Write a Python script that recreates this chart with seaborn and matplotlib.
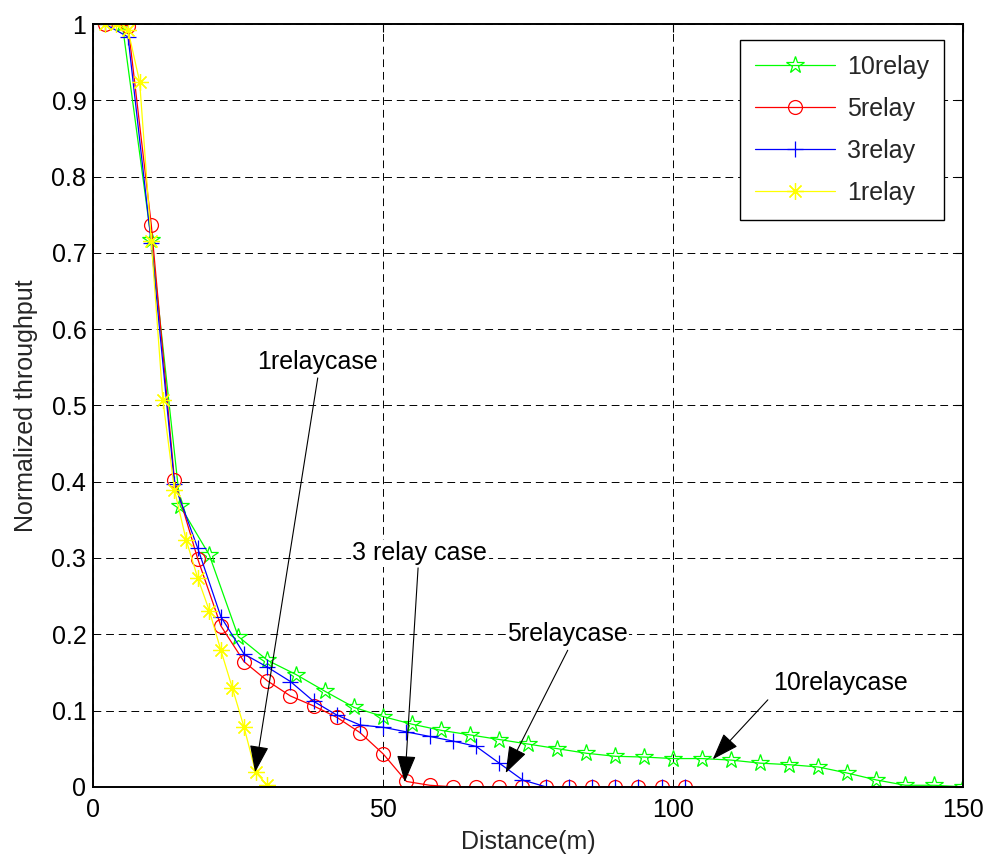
import matplotlib
matplotlib.use("Agg")
import matplotlib.pyplot as plt
import seaborn as sns
import pandas as pd

# ---- data ----
x10 = [5, 10, 15, 20, 25, 30, 35, 40, 45, 50, 55, 60, 65, 70, 75, 80, 85, 90, 95, 100,
       105, 110, 115, 120, 125, 130, 135, 140, 145, 150]
y10 = [1.0, 0.717, 0.368, 0.304, 0.197, 0.166, 0.147, 0.125, 0.104, 0.092, 0.082, 0.074,
       0.068, 0.062, 0.056, 0.050, 0.044, 0.040, 0.039, 0.037, 0.037, 0.035, 0.031, 0.029,
       0.026, 0.018, 0.009, 0.002, 0.002, 0.0]

x5 = [2, 6, 10, 14, 18, 22, 26, 30, 34, 38, 42, 46, 50, 54, 58, 62, 66, 70, 74, 78, 82,
      86, 90, 94, 98, 102]
y5 = [1.0, 0.998, 0.737, 0.402, 0.299, 0.211, 0.164, 0.139, 0.119, 0.106, 0.091, 0.071,
      0.043, 0.007, 0.002, 0.0, 0.0, 0.0, 0.0, 0.0, 0.0, 0.0, 0.0, 0.0, 0.0, 0.0]

x3 = [2, 6, 10, 14, 18, 22, 26, 30, 34, 38, 42, 46, 50, 54, 58, 62, 66, 70, 74, 78, 82,
      86, 90, 94, 98, 102]
y3 = [1.0, 0.983, 0.713, 0.397, 0.313, 0.223, 0.174, 0.157, 0.138, 0.112, 0.094, 0.081,
      0.078, 0.072, 0.066, 0.060, 0.053, 0.031, 0.009, 0.0, 0.0, 0.0, 0.0, 0.0, 0.0, 0.0]

x1 = [2, 4, 6, 8, 10, 12, 14, 16, 18, 20, 22, 24, 26, 28, 30]
y1 = [1.0, 1.0, 0.992, 0.924, 0.715, 0.507, 0.389, 0.324, 0.274, 0.231, 0.179, 0.129,
      0.078, 0.019, 0.002]

series_names = ["10relay", "5relay", "3relay", "1relay"]

annot_texts = ["1relaycase", "3 relay case", "5relaycase", "10relaycase"]
annot_text_xy = [(38.7, 0.557), (56.3, 0.306), (81.7, 0.200), (128.9, 0.136)]
annot_tail_xy = [(38.7, 0.536), (56.0, 0.287), (81.8, 0.179), (116.3, 0.114)]
annot_tip_xy = [(27.9, 0.019), (53.7, 0.006), (71.1, 0.018), (106.8, 0.036)]

xticks = [0, 50, 100, 150]
yticks = [0, 0.1, 0.2, 0.3, 0.4, 0.5, 0.6, 0.7, 0.8, 0.9, 1.0]
ytick_labels = ["0", "0.1", "0.2", "0.3", "0.4", "0.5", "0.6", "0.7", "0.8", "0.9", "1"]

# ---- style ----
sns.set_style("white")
plt.rcParams["font.family"] = ["Liberation Sans", "DejaVu Sans"]
FS = 18

fig = plt.figure(figsize=(9.88, 8.67), dpi=100)
ax = fig.add_axes([0.0944, 0.0925, 0.8806, 0.8798])

data = [
    (x10, y10, "#00ff00", "*", 13, series_names[0]),
    (x5, y5, "#ff0000", "o", 10, series_names[1]),
    (x3, y3, "#0000ff", "+", 12, series_names[2]),
    (x1, y1, "#ffff00", (8, 2, 0), 12, series_names[3]),
]
for xs, ys, col, mk, ms, name in data:
    df = pd.DataFrame({"x": xs, "y": ys})
    sns.lineplot(data=df, x="x", y="y", ax=ax, color=col, marker=mk, markersize=ms,
                 markerfacecolor="none", markeredgecolor=col, markeredgewidth=0.9,
                 linewidth=0.9, label=name, errorbar=None, sort=False)

ax.set_xlim(0, 150)
ax.set_ylim(0, 1)
ax.set_xticks(xticks)
ax.set_xticklabels([str(t) for t in xticks])
ax.set_yticks(yticks)
ax.set_yticklabels(ytick_labels)
ax.tick_params(direction="in", length=6, width=0.8, labelsize=FS, colors="black",
               top=True, right=True, pad=8)
ax.tick_params(axis="y", pad=5)
for s in ax.spines.values():
    s.set_color("black")
    s.set_linewidth(1.4)

ax.grid(True, color="black", linestyle=(0, (8, 5)), linewidth=0.7)
ax.set_axisbelow(True)

ax.set_xlabel("Distance(m)", fontsize=FS, labelpad=6)
ax.set_ylabel("Normalized throughput", fontsize=FS, labelpad=10)

for txt, txy, tail, tip in zip(annot_texts, annot_text_xy, annot_tail_xy, annot_tip_xy):
    ax.text(txy[0], txy[1], txt, fontsize=FS, ha="center", va="center", color="black",
            bbox=dict(boxstyle="square,pad=0.05", fc="white", ec="none"))
    ax.annotate("", xy=tip, xytext=tail,
                arrowprops=dict(arrowstyle="-|>,head_length=1.7,head_width=0.6",
                                color="black", lw=0.8, shrinkA=0, shrinkB=0))

leg = ax.legend(loc="upper right", bbox_to_anchor=(0.978, 0.979), borderaxespad=0,
                fontsize=FS, frameon=True, fancybox=False, edgecolor="black",
                framealpha=1, handlelength=3.2, handletextpad=0.5, labelspacing=0.72,
                borderpad=0.6)
leg.get_frame().set_linewidth(1.0)

fig.savefig("out.png", dpi=100)
